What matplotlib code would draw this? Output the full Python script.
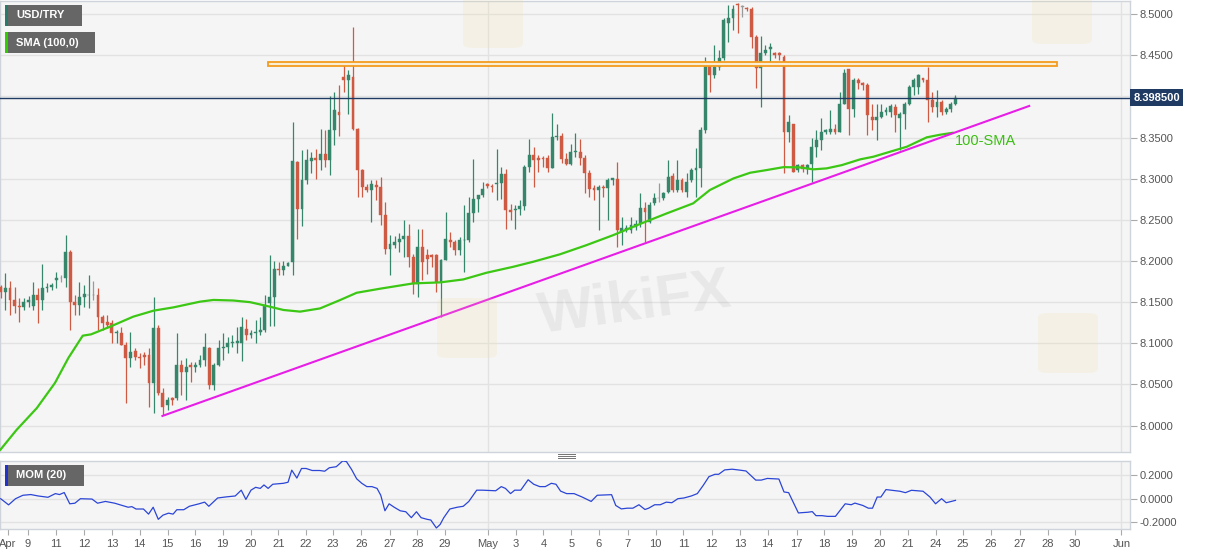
import matplotlib
matplotlib.use("Agg")
import matplotlib.pyplot as plt
from matplotlib.patches import Rectangle, FancyBboxPatch

plt.rcParams['font.family'] = ['Liberation Sans', 'DejaVu Sans']

# ---------------- data (4H candles, bar index 0..206) ----------------
opens = [8.1688, 8.1627, 8.1668, 8.1526, 8.1453, 8.1437, 8.1506, 8.1453, 8.1587, 8.1526,
         8.1668, 8.1688, 8.1769, 8.1789, 8.1789, 8.2113, 8.1506, 8.1465, 8.1567, 8.1583,
         8.1583, 8.1583, 8.1316, 8.1263, 8.1243, 8.1121, 8.1129, 8.0979, 8.0817, 8.0906,
         8.0838, 8.0858, 8.0858, 8.0514, 8.1182, 8.0392, 8.0250, 8.0331, 8.0331, 8.0736,
         8.0655, 8.0736, 8.0716, 8.0736, 8.0800, 8.0940, 8.0490, 8.0740, 8.0940, 8.0960,
         8.1000, 8.1000, 8.1000, 8.1180, 8.1100, 8.1120, 8.1140, 8.1160, 8.1487, 8.1567,
         8.1905, 8.1885, 8.1945, 8.1990, 8.3200, 8.2635, 8.2980, 8.3220, 8.3251, 8.3223,
         8.3304, 8.3223, 8.3588, 8.3813, 8.4239, 8.4198, 8.4236, 8.3608, 8.3100, 8.2898,
         8.2858, 8.2920, 8.2900, 8.2554, 8.2149, 8.2192, 8.2232, 8.2273, 8.2305, 8.2050,
         8.1726, 8.2172, 8.2070, 8.2070, 8.2070, 8.1746, 8.2018, 8.2261, 8.2232, 8.2131,
         8.2253, 8.2261, 8.2585, 8.2747, 8.2799, 8.2933, 8.2917, 8.2933, 8.2949, 8.3055,
         8.2617, 8.2617, 8.2637, 8.2666, 8.3144, 8.3285, 8.3245, 8.3253, 8.3245, 8.3132,
         8.3508, 8.3520, 8.3233, 8.3184, 8.3326, 8.3326, 8.3245, 8.3063, 8.2882, 8.2862,
         8.2902, 8.2882, 8.2983, 8.2991, 8.2355, 8.2376, 8.2376, 8.2416, 8.2457, 8.2639,
         8.2477, 8.2700, 8.2760, 8.2760, 8.2841, 8.3032, 8.2862, 8.2983, 8.2841, 8.2983,
         8.3105, 8.3125, 8.3591, 8.4380, 8.4259, 8.4360, 8.4461, 8.4887, 8.4947, 8.5122,
         8.5089, 8.5069, 8.5057, 8.4725, 8.4340, 8.4522, 8.4571, 8.4522, 8.4522, 8.4482,
         8.3569, 8.3670, 8.3103, 8.3163, 8.3123, 8.3184, 8.3386, 8.3467, 8.3569, 8.3569,
         8.3609, 8.3569, 8.3913, 8.4338, 8.3852, 8.4196, 8.4164, 8.4136, 8.3751, 8.3710,
         8.3751, 8.3812, 8.3812, 8.3872, 8.3731, 8.3791, 8.3913, 8.4115, 8.4115, 8.4217,
         8.4204, 8.3953, 8.3872, 8.3933, 8.3812, 8.3852, 8.3913]
highs = [8.1708, 8.1850, 8.1761, 8.1688, 8.1546, 8.1546, 8.1575, 8.1749, 8.1668, 8.1960,
         8.1729, 8.1729, 8.1870, 8.1830, 8.2316, 8.2134, 8.1587, 8.1749, 8.1708, 8.1830,
         8.1761, 8.1668, 8.1344, 8.1344, 8.1283, 8.1162, 8.1202, 8.1020, 8.1141, 8.0939,
         8.0878, 8.0898, 8.0939, 8.1567, 8.1222, 8.0453, 8.0352, 8.0352, 8.1121, 8.0797,
         8.0817, 8.0777, 8.0777, 8.0858, 8.1122, 8.0960, 8.0760, 8.1040, 8.1120, 8.1080,
         8.1100, 8.1200, 8.1320, 8.1300, 8.1160, 8.1280, 8.1320, 8.1590, 8.2067, 8.2006,
         8.1990, 8.2000, 8.1990, 8.3690, 8.3220, 8.3344, 8.3365, 8.3324, 8.3360, 8.3608,
         8.3588, 8.4009, 8.4054, 8.4135, 8.4398, 8.4318, 8.4845, 8.3620, 8.3121, 8.2939,
         8.2979, 8.2980, 8.3020, 8.2717, 8.2310, 8.2298, 8.2334, 8.2504, 8.2455, 8.2091,
         8.2394, 8.2394, 8.2151, 8.2091, 8.2091, 8.2030, 8.2597, 8.2354, 8.2253, 8.2293,
         8.2678, 8.2779, 8.3233, 8.2807, 8.2961, 8.2950, 8.2933, 8.3366, 8.3144, 8.3123,
         8.2698, 8.2678, 8.2738, 8.3164, 8.3476, 8.3386, 8.3285, 8.3277, 8.3285, 8.3792,
         8.3670, 8.3549, 8.3306, 8.3427, 8.3549, 8.3476, 8.3285, 8.3103, 8.2922, 8.2922,
         8.2922, 8.3003, 8.3003, 8.3206, 8.2538, 8.2436, 8.2538, 8.2497, 8.2821, 8.2720,
         8.2720, 8.2821, 8.2942, 8.2841, 8.3226, 8.3064, 8.3226, 8.3003, 8.3064, 8.3125,
         8.3368, 8.3631, 8.4482, 8.4421, 8.4623, 8.4563, 8.4947, 8.5109, 8.5109, 8.5138,
         8.5109, 8.5089, 8.5089, 8.4745, 8.4733, 8.4623, 8.4644, 8.4542, 8.4542, 8.4502,
         8.3771, 8.3670, 8.3183, 8.3184, 8.3184, 8.3488, 8.3589, 8.3731, 8.3609, 8.3832,
         8.3670, 8.4055, 8.4338, 8.4338, 8.4217, 8.4217, 8.4176, 8.4156, 8.3913, 8.3913,
         8.3913, 8.3872, 8.3913, 8.3913, 8.3812, 8.3933, 8.4136, 8.4217, 8.4277, 8.4217,
         8.4358, 8.4055, 8.4075, 8.3953, 8.3872, 8.3933, 8.4014]
lows = [8.1546, 8.1405, 8.1344, 8.1364, 8.1263, 8.1405, 8.1445, 8.1405, 8.1243, 8.1405,
        8.1627, 8.1648, 8.1668, 8.1749, 8.1688, 8.1162, 8.1344, 8.1344, 8.1445, 8.1425,
        8.1526, 8.1162, 8.1162, 8.1182, 8.1000, 8.1000, 8.0979, 8.0271, 8.0716, 8.0797,
        8.0696, 8.0736, 8.0230, 8.0149, 8.0372, 8.0129, 8.0189, 8.0250, 8.0311, 8.0372,
        8.0311, 8.0534, 8.0655, 8.0716, 8.0720, 8.0450, 8.0430, 8.0720, 8.0800, 8.0880,
        8.0960, 8.0880, 8.0780, 8.1040, 8.1060, 8.1000, 8.1100, 8.1140, 8.1215, 8.1215,
        8.1830, 8.1830, 8.1940, 8.1824, 8.2270, 8.2430, 8.2940, 8.3070, 8.2990, 8.3100,
        8.3136, 8.3040, 8.3405, 8.3520, 8.4054, 8.3790, 8.3588, 8.2777, 8.2777, 8.2838,
        8.2473, 8.2737, 8.2432, 8.2088, 8.1824, 8.2152, 8.2110, 8.2050, 8.1930, 8.1605,
        8.1564, 8.1767, 8.1848, 8.1929, 8.1625, 8.1320, 8.2010, 8.2172, 8.2070, 8.2070,
        8.1868, 8.2232, 8.2475, 8.2597, 8.2779, 8.2890, 8.2840, 8.2739, 8.2759, 8.2394,
        8.2495, 8.2394, 8.2556, 8.2617, 8.3083, 8.2901, 8.3083, 8.3144, 8.3083, 8.3124,
        8.3472, 8.3185, 8.3164, 8.3164, 8.3265, 8.3164, 8.2820, 8.2779, 8.2740, 8.2376,
        8.2781, 8.2497, 8.2922, 8.2173, 8.2193, 8.2355, 8.2335, 8.2376, 8.2416, 8.2234,
        8.2457, 8.2679, 8.2720, 8.2740, 8.2821, 8.2841, 8.2841, 8.2841, 8.2781, 8.2963,
        8.2781, 8.2902, 8.3550, 8.4056, 8.4218, 8.4320, 8.4441, 8.4664, 8.4806, 8.4765,
        8.4968, 8.5040, 8.4583, 8.4097, 8.3874, 8.4502, 8.4401, 8.4461, 8.4441, 8.3064,
        8.3447, 8.3083, 8.3083, 8.3083, 8.3062, 8.2961, 8.3265, 8.3346, 8.3548, 8.3548,
        8.3548, 8.3569, 8.3913, 8.3528, 8.3751, 8.4095, 8.4075, 8.3528, 8.3589, 8.3467,
        8.3731, 8.3771, 8.3751, 8.3569, 8.3346, 8.3609, 8.3893, 8.4014, 8.4034, 8.4176,
        8.3690, 8.3812, 8.3751, 8.3771, 8.3791, 8.3812, 8.3893]
closes = [8.1627, 8.1668, 8.1526, 8.1453, 8.1437, 8.1506, 8.1526, 8.1587, 8.1526, 8.1668,
          8.1688, 8.1708, 8.1789, 8.1789, 8.2113, 8.1506, 8.1465, 8.1567, 8.1599, 8.1591,
          8.1583, 8.1316, 8.1243, 8.1222, 8.1121, 8.1141, 8.0979, 8.0817, 8.0898, 8.0838,
          8.0817, 8.0838, 8.0514, 8.1182, 8.0392, 8.0230, 8.0311, 8.0311, 8.0736, 8.0655,
          8.0716, 8.0716, 8.0736, 8.0797, 8.0960, 8.0490, 8.0740, 8.0940, 8.0960, 8.1000,
          8.1020, 8.1030, 8.1200, 8.1100, 8.1120, 8.1140, 8.1160, 8.1466, 8.1567, 8.1905,
          8.1890, 8.1945, 8.1970, 8.3210, 8.2635, 8.2979, 8.3223, 8.3251, 8.3223, 8.3304,
          8.3223, 8.3588, 8.3831, 8.3770, 8.4198, 8.4257, 8.3608, 8.3100, 8.2898, 8.2858,
          8.2939, 8.2900, 8.2554, 8.2149, 8.2210, 8.2232, 8.2273, 8.2305, 8.2050, 8.1726,
          8.2172, 8.1989, 8.2030, 8.2050, 8.1746, 8.2018, 8.2273, 8.2232, 8.2131, 8.2253,
          8.2261, 8.2585, 8.2747, 8.2799, 8.2880, 8.2909, 8.2893, 8.2949, 8.3055, 8.2617,
          8.2597, 8.2637, 8.2666, 8.3144, 8.3293, 8.3225, 8.3225, 8.3237, 8.3132, 8.3508,
          8.3520, 8.3233, 8.3184, 8.3326, 8.3330, 8.3245, 8.3063, 8.2880, 8.2862, 8.2902,
          8.2882, 8.2983, 8.3003, 8.2376, 8.2396, 8.2396, 8.2436, 8.2449, 8.2639, 8.2598,
          8.2679, 8.2760, 8.2760, 8.2829, 8.3024, 8.2862, 8.2983, 8.2862, 8.2963, 8.3105,
          8.3125, 8.3591, 8.4380, 8.4259, 8.4360, 8.4461, 8.4927, 8.4947, 8.5057, 8.5109,
          8.5089, 8.5057, 8.4725, 8.4340, 8.4522, 8.4563, 8.4603, 8.4502, 8.4502, 8.3570,
          8.3690, 8.3083, 8.3163, 8.3123, 8.3163, 8.3386, 8.3467, 8.3569, 8.3589, 8.3609,
          8.3569, 8.3913, 8.4285, 8.3852, 8.4196, 8.4164, 8.4136, 8.3771, 8.3710, 8.3751,
          8.3812, 8.3840, 8.3880, 8.3771, 8.3791, 8.3913, 8.4115, 8.4196, 8.4257, 8.4196,
          8.3953, 8.3872, 8.3933, 8.3812, 8.3852, 8.3913, 8.3985]

# 100-period SMA (bar index, value)
sma_bar = [-0.1, 3.4, 7.8, 11.7, 14.6, 17.7, 19.5, 23.6, 28.6, 33.0, 37.3, 43.0, 45.9,
           50.2, 53.8, 57.4, 61.0, 64.6, 68.9, 73.2, 76.8, 81.8, 89.0, 94.8, 99.8, 104.8,
           110.6, 114.9, 120.7, 126.4, 132.2, 137.9, 143.7, 149.4, 153.0, 158.1, 161.7,
           165.3, 168.9, 172.4, 175.3, 178.2, 181.5, 185.4, 188.3, 195.5, 199.8, 202.7, 205.5]
sma_val = [7.9705, 7.9947, 8.0214, 8.0518, 8.0822, 8.1093, 8.1109, 8.1202, 8.1324, 8.1397,
           8.1437, 8.1506, 8.1527, 8.1520, 8.1500, 8.1454, 8.1405, 8.1385, 8.1424, 8.1525,
           8.1614, 8.1663, 8.1728, 8.1740, 8.1776, 8.1857, 8.1930, 8.1991, 8.2082, 8.2193,
           8.2315, 8.2449, 8.2578, 8.2700, 8.2862, 8.3003, 8.3072, 8.3105, 8.3140, 8.3137,
           8.3113, 8.3125, 8.3165, 8.3234, 8.3267, 8.3388, 8.3502, 8.3534, 8.3558]

# Momentum (20) (bar index, value)
mom_bar = [0, 1.7, 3.2, 4.8, 6.5, 8.1, 10.2, 11.8, 12.7, 13.7, 14.9, 16.0, 17.2, 19.7, 20.9,
           22.6, 24.6, 26.3, 27.5, 28.3, 29.2, 30.8, 31.9, 32.9, 34.0, 35.0, 36.2, 37.2, 38.0,
           39.5, 40.7, 42.8, 44.0, 44.9, 46.8, 48.6, 50.6, 51.9, 52.9, 54.0, 55.0, 56.0, 56.8,
           57.7, 58.7, 61.0, 62.0, 62.8, 63.9, 64.9, 65.9, 67.2, 68.8, 69.9, 70.9, 72.4, 73.8,
           74.6, 75.7, 76.8, 77.9, 79.0, 80.1, 81.2, 82.0, 82.9, 83.8, 84.9, 86.2, 87.4, 88.6,
           89.7, 90.7, 92.0, 92.8, 94.0, 94.8, 95.6, 96.9, 98.5, 99.8, 101.0, 102.7, 103.9,
           106.8, 108.0, 108.9, 110.0, 110.9, 112.2, 113.8, 115.0, 116.3, 117.5, 118.8, 119.8,
           120.8, 122.1, 123.7, 125.4, 127.4, 128.7, 131.8, 132.7, 133.9, 135.2, 136.4, 137.7,
           139.0, 139.8, 141.1, 142.3, 143.6, 144.8, 146.1, 147.4, 149.0, 150.3, 151.6, 152.8,
           154.1, 154.9, 156.2, 157.8, 159.1, 160.8, 162.9, 164.1, 165.4, 167.9, 169.0, 170.0,
           172.1, 174.2, 175.1, 175.9, 177.2, 178.4, 180.1, 182.2, 183.5, 184.3, 186.0, 187.2,
           188.1, 189.1, 189.9, 191.0, 192.3, 194.0, 195.2, 196.5, 199.0, 200.5, 201.7, 203.0,
           204.0, 206.0]
mom_val = [0.000, -0.052, 0.000, 0.029, 0.035, 0.023, 0.012, 0.043, 0.035, 0.052, -0.043,
           -0.038, 0.000, -0.003, -0.038, -0.023, -0.038, -0.058, -0.072, -0.067, -0.087,
           -0.087, -0.130, -0.072, -0.174, -0.139, -0.122, -0.130, -0.093, -0.093, -0.064,
           -0.043, -0.029, -0.064, 0.006, 0.015, 0.023, 0.072, -0.006, 0.072, 0.096, 0.087,
           0.116, 0.087, 0.122, 0.130, 0.139, 0.241, 0.174, 0.255, 0.255, 0.238, 0.238, 0.232,
           0.261, 0.270, 0.319, 0.313, 0.247, 0.168, 0.130, 0.102, 0.102, 0.087, 0.029, -0.102,
           -0.043, -0.072, -0.102, -0.110, -0.160, -0.110, -0.160, -0.174, -0.180, -0.247,
           -0.218, -0.160, -0.087, -0.072, -0.064, -0.023, 0.072, 0.072, 0.067, 0.102, 0.087,
           0.043, 0.072, 0.072, 0.160, 0.122, 0.102, 0.102, 0.130, 0.122, 0.064, 0.043, 0.043,
           0.015, -0.023, 0.029, 0.034, -0.057, -0.086, -0.080, -0.080, -0.051, -0.091, -0.080,
           -0.051, -0.051, -0.029, -0.034, 0.000, 0.006, 0.023, 0.043, 0.114, 0.186, 0.206,
           0.206, 0.243, 0.249, 0.243, 0.234, 0.157, 0.157, 0.171, 0.166, 0.057, 0.051, -0.120,
           -0.114, -0.109, -0.143, -0.143, -0.149, -0.149, -0.043, -0.051, -0.037, -0.057,
           -0.080, -0.080, 0.014, 0.014, 0.077, 0.071, 0.063, 0.051, 0.071, 0.063, 0.014,
           -0.043, 0.000, -0.034, -0.014]

# annotations
trend_bar = [34.9, 221.9]
trend_val = [8.0118, 8.3883]
resist_bar = [57.7, 227.9]
resist_val = [8.4366, 8.4414]
last_price = 8.3985
sma_label_pos = (205.9, 8.3458)

tick_labels = ['Apr', '9', '11', '12', '13', '14', '15', '16', '19', '20', '21', '22', '23',
               '26', '27', '28', '29', 'May', '3', '4', '5', '6', '7', '10', '11', '12', '13',
               '14', '17', '18', '19', '20', '21', '24', '25', '26', '27', '28', '30', 'Jun']
tick_pos = [1.6, 5.9, 12.0, 18.0, 24.0, 30.0, 36.0, 41.9, 47.9, 53.9, 59.9, 65.8, 71.7,
            77.8, 83.9, 89.9, 95.8, 105.1, 111.2, 117.1, 123.1, 129.0, 135.3, 141.3, 147.3,
            153.4, 159.5, 165.5, 171.7, 177.7, 183.6, 189.7, 195.7, 201.7, 207.6, 213.7,
            219.9, 225.9, 231.8, 241.8]
month_lines = [105.1, 241.8]
price_ticks = [8.00, 8.05, 8.10, 8.15, 8.20, 8.25, 8.30, 8.35, 8.40, 8.45, 8.50]
mom_ticks = [-0.2, 0.0, 0.2]

# ---------------- styling ----------------
W, H = 1207, 555
UP, DOWN, FLAT = '#36866b', '#cf5a43', '#9a9a9a'
FACE = '#f5f5f5'
GRID = '#e2e2e2'
SPINE = '#cfd3da'
TXT = '#555555'

fig = plt.figure(figsize=(W / 100, H / 100), dpi=100)
fig.patch.set_facecolor('white')

ax = fig.add_axes([0.0, 1 - 452 / H, 1130 / W, (452 - 1) / H])
ax2 = fig.add_axes([0.0, 1 - 529.3 / H, 1130 / W, (529.3 - 460.7) / H])

for a in (ax, ax2):
    a.set_facecolor(FACE)
    a.set_xlim(-0.15, 243.65)
    for s in a.spines.values():
        s.set_color(SPINE)
        s.set_linewidth(1)
    for m in month_lines:
        a.axvline(m, color=GRID, lw=1, zorder=0.5)

ax.set_ylim(7.968, 8.5158)
ax2.set_ylim(-0.2582, 0.3207)

# horizontal grid
for v in price_ticks:
    ax.axhline(v, color=GRID, lw=1, zorder=0.5)
for v in mom_ticks:
    ax2.axhline(v, color=GRID, lw=1, zorder=0.5)

# ---------------- candles ----------------
n = len(closes)
body_w = 0.62
min_h = 0.0007
for i in range(n):
    o, h, l, c = opens[i], highs[i], lows[i], closes[i]
    if abs(c - o) < 0.0002:
        col = FLAT
    elif c > o:
        col = UP
    else:
        col = DOWN
    ax.vlines(i, l, h, color=col, lw=0.9, zorder=3)
    bot = min(o, c)
    ht = max(abs(c - o), min_h)
    ax.bar(i, ht, bottom=bot, width=body_w, color=col, edgecolor=col, lw=0.3, zorder=4)

# SMA
ax.plot(sma_bar, sma_val, color='#3cc714', lw=1.6, zorder=5, solid_capstyle='round')
# trend line
ax.plot(trend_bar, trend_val, color='#e61ee6', lw=1.5, zorder=5)
# resistance zone
ax.add_patch(Rectangle((resist_bar[0], resist_val[0]), resist_bar[1] - resist_bar[0],
                       resist_val[1] - resist_val[0], facecolor='#fbeed6',
                       edgecolor='#f39c1f', lw=1.3, zorder=4.5))
# last price line
ax.axhline(last_price, color='#1f3a63', lw=1.0, zorder=4.6)

ax.text(sma_label_pos[0], sma_label_pos[1], '100-SMA', color='#3cbf14', fontsize=10.5,
        ha='left', va='center', zorder=6)

# ---------------- axes ticks ----------------
ax.set_xticks([])
ax.yaxis.tick_right()
ax.set_yticks(price_ticks)
ax.set_yticklabels(['%.4f' % v if abs(v - 8.40) > 1e-9 else '' for v in price_ticks])
ax.tick_params(axis='y', colors='#aaaaaa', labelcolor=TXT, labelsize=8, length=5, width=0.8, pad=2)

ax2.yaxis.tick_right()
ax2.set_yticks(mom_ticks)
ax2.set_yticklabels(['%.4f' % v for v in mom_ticks])
ax2.tick_params(axis='y', colors='#aaaaaa', labelcolor=TXT, labelsize=8, length=5, width=0.8, pad=2)
ax2.set_xticks(tick_pos)
ax2.set_xticklabels(tick_labels)
ax2.tick_params(axis='x', colors='#aaaaaa', labelcolor=TXT, labelsize=8, length=4, width=0.8, pad=3)

ax2.plot(mom_bar, mom_val, color='#2b45d6', lw=0.9, zorder=5)

# last price tag
ax.text(1.003, last_price, '8.398500', transform=ax.get_yaxis_transform(), color='white',
        fontsize=8, fontweight='bold', ha='left', va='center', zorder=10, clip_on=False,
        bbox=dict(boxstyle='square,pad=0.28', fc='#1f3a63', ec='none'))


# ---------------- overlays in pixel coords ----------------
def frect(x0, y0, x1, y1, color, z=20, alpha=1.0):
    fig.patches.append(Rectangle((x0 / W, 1 - y1 / H), (x1 - x0) / W, (y1 - y0) / H,
                                 transform=fig.transFigure, facecolor=color,
                                 edgecolor='none', zorder=z, alpha=alpha))


def fround(x0, y0, x1, y1, color, z=1, alpha=1.0):
    fig.patches.append(FancyBboxPatch((x0 / W, 1 - y1 / H), (x1 - x0) / W, (y1 - y0) / H,
                                      boxstyle='round,pad=0,rounding_size=0.008',
                                      transform=fig.transFigure, facecolor=color,
                                      edgecolor='none', zorder=z, alpha=alpha))


def ftext(x, y, s, **kw):
    fig.text(x / W, 1 - y / H, s, **kw)


# faint watermarks
ftext(635, 305, 'WikiFX', fontsize=42, rotation=8, color='#8a8a8a', alpha=0.12,
      fontweight='bold', ha='center', va='center', zorder=1)
for (cx, cy) in [(467, 328), (1068, 343), (493, 18), (1062, 14)]:
    fround(cx - 30, cy - 30, cx + 30, cy + 30, '#f1dc9a', z=1, alpha=0.16)

# legend boxes
frect(5, 5, 82, 26, '#666666', z=20)
frect(5, 5, 7.5, 26, '#2a7a6a', z=21)
ftext(16, 15.5, 'USD/TRY', color='white', fontsize=8, fontweight='bold', va='center', zorder=22)

frect(5, 32, 95, 53, '#666666', z=20)
frect(5, 32, 7.5, 53, '#33cc00', z=21)
ftext(16, 42.5, 'SMA (100,0)', color='white', fontsize=8, fontweight='bold', va='center', zorder=22)

frect(5, 465, 84, 486, '#666666', z=20)
frect(5, 465, 7.5, 486, '#2233cc', z=21)
ftext(16, 475.5, 'MOM (20)', color='white', fontsize=8, fontweight='bold', va='center', zorder=22)

# splitter handle
for yy in (454.5, 456.5, 458.5):
    frect(558, yy - 0.5, 576, yy + 0.5, '#777777', z=20)

fig.savefig('out.png', dpi=100, facecolor='white')
